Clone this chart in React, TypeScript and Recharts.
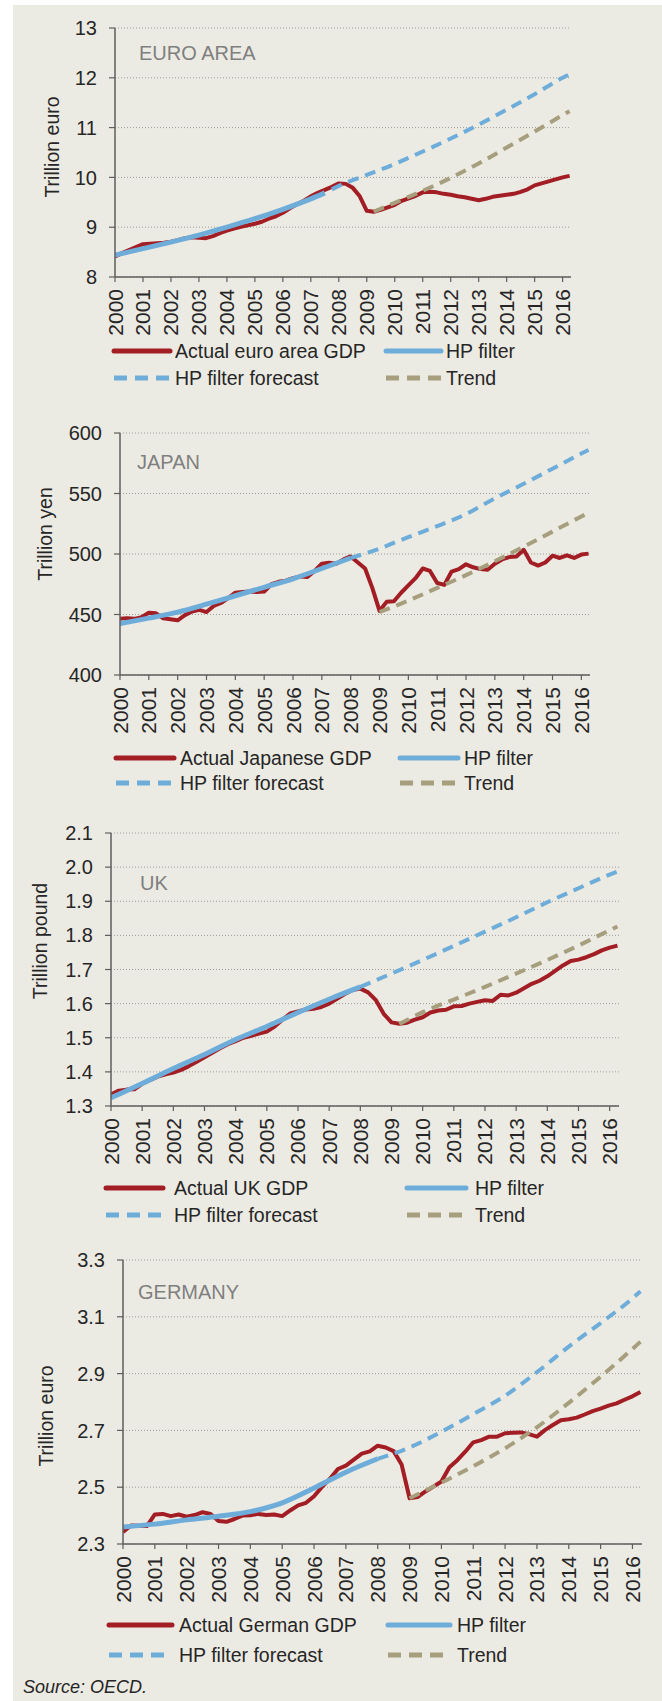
import React from 'react';
import { LineChart, Line, XAxis, YAxis, CartesianGrid } from 'recharts';

const FONT = "'Liberation Sans', Arial, sans-serif";
const RED = '#A31D24';
const BLUE = '#6EADD9';
const KHAKI = '#A69E7C';
const BG = '#ECEBE3';
const TEXT = '#262626';

const years = [2000, 2001, 2002, 2003, 2004, 2005, 2006, 2007, 2008, 2009, 2010, 2011, 2012, 2013, 2014, 2015, 2016];
const quarterTimes = Array.from({ length: 66 }, (_, i) => 2000 + i / 4);

// ---------- EURO AREA ----------
const euroActual = [
  8.41, 8.48, 8.54, 8.60,
  8.66, 8.67, 8.68, 8.69,
  8.71, 8.74, 8.78, 8.80,
  8.79, 8.78, 8.82, 8.88,
  8.93, 8.97, 9.01, 9.04,
  9.07, 9.11, 9.17, 9.22,
  9.29, 9.38, 9.46, 9.53,
  9.62, 9.69, 9.75, 9.81,
  9.88, 9.87, 9.79, 9.62,
  9.33, 9.31, 9.35, 9.40,
  9.45, 9.53, 9.58, 9.63,
  9.70, 9.71, 9.70, 9.67,
  9.65, 9.62, 9.60, 9.57,
  9.54, 9.57, 9.61, 9.63,
  9.65, 9.67, 9.71, 9.76,
  9.84, 9.88, 9.92, 9.96,
  10.00, 10.03,
];
const euroHpT = [2000, 2001, 2002, 2003, 2004, 2005, 2006, 2007, 2007.5];
const euroHp = [8.44, 8.57, 8.70, 8.84, 9.00, 9.17, 9.36, 9.57, 9.69];
const euroFcT = [2007.75, 2008, 2009, 2010, 2011, 2012, 2013, 2014, 2015, 2016, 2016.25];
const euroFc = [9.76, 9.83, 10.05, 10.27, 10.52, 10.78, 11.06, 11.36, 11.67, 12.0, 12.07];
const euroTrT = [2009.25, 2010, 2011, 2012, 2013, 2014, 2015, 2016, 2016.25];
const euroTr = [9.31, 9.49, 9.73, 9.99, 10.28, 10.6, 10.92, 11.25, 11.33];
const euroTicks = [8, 9, 10, 11, 12, 13];

// ---------- JAPAN ----------
const japanActual = [
  446.5, 447.0, 446.4, 447.8,
  451.5, 451.0, 446.8, 446.0,
  445.2, 449.5, 452.5, 453.8,
  452.0, 457.0, 459.5, 463.5,
  468.0, 468.5, 469.0, 468.6,
  469.0, 475.0, 477.0, 478.0,
  480.0, 481.5, 481.0, 486.0,
  492.0, 492.8, 492.0, 495.5,
  498.0, 493.0, 488.0, 472.0,
  453.0, 460.5, 461.0, 468.0,
  474.0, 480.0, 488.0, 486.0,
  476.0, 474.5, 485.5, 487.5,
  491.5, 489.0, 487.5, 487.0,
  492.0, 495.5, 497.5, 498.0,
  503.5, 493.0, 490.4, 493.0,
  498.6, 496.7, 498.9, 496.7,
  499.5, 500.3,
];
const japanHpT = [2000, 2001, 2002, 2003, 2004, 2005, 2006, 2007, 2008];
const japanHp = [442.5, 447, 452, 458.5, 465.5, 472.5, 479.5, 488, 496.7];
const japanFcT = [2008, 2009, 2010, 2011, 2012, 2013, 2014, 2015, 2016, 2016.25];
const japanFc = [496.7, 504.5, 514, 523, 533, 546, 558, 570.5, 583, 586];
const japanTrT = [2009, 2010, 2011, 2012, 2013, 2014, 2015, 2016, 2016.25];
const japanTr = [452, 461.5, 472, 482.5, 494, 506, 518.5, 531, 534];
const japanTicks = [400, 450, 500, 550, 600];

// ---------- UK ----------
const ukActual = [
  1.334, 1.345, 1.348, 1.349,
  1.365, 1.376, 1.386, 1.393,
  1.398, 1.406, 1.417, 1.430,
  1.443, 1.456, 1.469, 1.481,
  1.490, 1.500, 1.506, 1.512,
  1.518, 1.533, 1.553, 1.571,
  1.577, 1.583, 1.585, 1.590,
  1.600, 1.614, 1.628, 1.640,
  1.644, 1.633, 1.610, 1.570,
  1.545, 1.541, 1.544, 1.553,
  1.560, 1.574, 1.580, 1.582,
  1.592, 1.593, 1.600, 1.605,
  1.610, 1.608, 1.626, 1.624,
  1.632, 1.645, 1.658, 1.667,
  1.680, 1.696, 1.712, 1.725,
  1.729, 1.736, 1.745, 1.756,
  1.764, 1.770,
];
const ukHpT = [2000, 2001, 2002, 2003, 2004, 2005, 2006, 2007, 2008];
const ukHp = [1.324, 1.366, 1.410, 1.451, 1.495, 1.533, 1.574, 1.613, 1.649];
const ukFcT = [2008, 2009, 2010, 2011, 2012, 2013, 2014, 2015, 2016, 2016.25];
const ukFc = [1.649, 1.688, 1.728, 1.769, 1.811, 1.853, 1.897, 1.938, 1.978, 1.987];
const ukTrT = [2009.25, 2010, 2011, 2012, 2013, 2014, 2015, 2016, 2016.25];
const ukTr = [1.540, 1.575, 1.612, 1.649, 1.688, 1.728, 1.770, 1.815, 1.826];
const ukTicks = [1.3, 1.4, 1.5, 1.6, 1.7, 1.8, 1.9, 2.0, 2.1];

// ---------- GERMANY ----------
const deActual = [
  2.342, 2.365, 2.364, 2.363,
  2.404, 2.406, 2.398, 2.404,
  2.396, 2.402, 2.412, 2.406,
  2.381, 2.378, 2.388, 2.400,
  2.401, 2.406, 2.402, 2.404,
  2.398, 2.418, 2.436, 2.445,
  2.468, 2.501, 2.530, 2.564,
  2.576, 2.597, 2.618, 2.626,
  2.646, 2.640, 2.627, 2.580,
  2.461, 2.465, 2.485, 2.502,
  2.520, 2.570, 2.595, 2.625,
  2.658, 2.666, 2.678, 2.678,
  2.690, 2.692, 2.693, 2.687,
  2.678, 2.701, 2.719, 2.736,
  2.739, 2.745, 2.756, 2.768,
  2.777, 2.787, 2.795, 2.808,
  2.820, 2.835,
];
const deHpT = [2000, 2001, 2002, 2003, 2004, 2005, 2006, 2007, 2008];
const deHp = [2.360, 2.370, 2.385, 2.398, 2.414, 2.445, 2.497, 2.553, 2.600];
const deFcT = [2008, 2009, 2010, 2011, 2012, 2013, 2014, 2015, 2016, 2016.25];
const deFc = [2.600, 2.640, 2.695, 2.757, 2.822, 2.905, 2.995, 3.078, 3.165, 3.19];
const deTrT = [2009, 2010, 2011, 2012, 2013, 2014, 2015, 2016, 2016.25];
const deTr = [2.461, 2.516, 2.574, 2.637, 2.711, 2.797, 2.889, 2.987, 3.012];
const deTicks = [2.3, 2.5, 2.7, 2.9, 3.1, 3.3];

const rows = (t: number[], v: number[]) => t.map((tt, i) => ({ t: tt, v: v[i] }));

type Panel = {
  title: string;
  ylabel: string;
  actualName: string;
  actual: number[];
  hpT: number[]; hp: number[];
  fcT: number[]; fc: number[];
  trT: number[]; tr: number[];
  ticks: number[];
  decimals: number;
  plot: { left: number; right: number; top: number; bottom: number };
  titlePos: { x: number; y: number };
  ylabelPos: { x: number; y: number };
  legendRows: number[];
  legendCols: { s: number; e: number; t: number }[];
};

const panels: Panel[] = [
  {
    title: 'EURO AREA', ylabel: 'Trillion euro', actualName: 'Actual euro area GDP',
    actual: euroActual, hpT: euroHpT, hp: euroHp, fcT: euroFcT, fc: euroFc, trT: euroTrT, tr: euroTr,
    ticks: euroTicks, decimals: 0,
    plot: { left: 115, right: 571, top: 28.3, bottom: 277.3 },
    titlePos: { x: 139, y: 53 }, ylabelPos: { x: 52, y: 147 },
    legendRows: [351, 378],
    legendCols: [{ s: 114, e: 170, t: 175 }, { s: 386, e: 441, t: 446 }],
  },
  {
    title: 'JAPAN', ylabel: 'Trillion yen', actualName: 'Actual Japanese GDP',
    actual: japanActual, hpT: japanHpT, hp: japanHp, fcT: japanFcT, fc: japanFc, trT: japanTrT, tr: japanTr,
    ticks: japanTicks, decimals: 0,
    plot: { left: 120, right: 590, top: 433.3, bottom: 675.3 },
    titlePos: { x: 137, y: 462 }, ylabelPos: { x: 44.5, y: 534 },
    legendRows: [758, 783],
    legendCols: [{ s: 116, e: 174, t: 180 }, { s: 400, e: 458, t: 464 }],
  },
  {
    title: 'UK', ylabel: 'Trillion pound', actualName: 'Actual UK GDP',
    actual: ukActual, hpT: ukHpT, hp: ukHp, fcT: ukFcT, fc: ukFc, trT: ukTrT, tr: ukTr,
    ticks: ukTicks, decimals: 1,
    plot: { left: 111, right: 619, top: 832.7, bottom: 1105.7 },
    titlePos: { x: 140, y: 883 }, ylabelPos: { x: 40, y: 941 },
    legendRows: [1188, 1215],
    legendCols: [{ s: 106, e: 163, t: 174 }, { s: 407, e: 466, t: 475 }],
  },
  {
    title: 'GERMANY', ylabel: 'Trillion euro', actualName: 'Actual German GDP',
    actual: deActual, hpT: deHpT, hp: deHp, fcT: deFcT, fc: deFc, trT: deTrT, tr: deTr,
    ticks: deTicks, decimals: 1,
    plot: { left: 123, right: 642, top: 1260, bottom: 1544 },
    titlePos: { x: 138, y: 1292 }, ylabelPos: { x: 46, y: 1416 },
    legendRows: [1625, 1655],
    legendCols: [{ s: 109, e: 172, t: 179 }, { s: 388, e: 450, t: 457 }],
  },
];

const XTick = (props: any) => {
  const { x, y, payload } = props;
  return (
    <text
      x={x}
      y={y}
      transform={`rotate(-90 ${x} ${y})`}
      textAnchor="end"
      dominantBaseline="central"
      fontSize={21}
      fill={TEXT}
      fontFamily={FONT}
    >
      {payload.value}
    </text>
  );
};

const LegendItem = ({ s, e, t, y, color, dashed, label }: any) => (
  <>
    <svg
      width={e - s}
      height={10}
      style={{ position: 'absolute', left: s, top: y - 5, overflow: 'visible' }}
    >
      <line
        x1={0}
        y1={5}
        x2={e - s}
        y2={5}
        stroke={color}
        strokeWidth={5}
        strokeDasharray={dashed ? '13 8' : undefined}
        strokeLinecap={dashed ? 'butt' : 'round'}
      />
    </svg>
    <div
      style={{
        position: 'absolute',
        left: t,
        top: y,
        transform: 'translateY(-50%)',
        fontFamily: FONT,
        fontSize: 19.5,
        lineHeight: '22px',
        color: TEXT,
        whiteSpace: 'nowrap',
      }}
    >
      {label}
    </div>
  </>
);

const ChartPanel = ({ p }: { p: Panel }) => {
  const mt = 20;
  const mr = 10;
  const xh = 60;
  const width = p.plot.right + mr;
  const height = p.plot.bottom - p.plot.top + mt + xh;
  const actualRows = rows(quarterTimes, p.actual);
  const [lo, hi] = [p.ticks[0], p.ticks[p.ticks.length - 1]];
  const [r1, r2] = p.legendRows;
  const [c1, c2] = p.legendCols;
  return (
    <>
      <div style={{ position: 'absolute', left: 0, top: p.plot.top - mt }}>
        <LineChart width={width} height={height} margin={{ top: mt, right: mr, bottom: 0, left: 0 }}>
          <CartesianGrid vertical={false} stroke="#9c9c9c" strokeDasharray="1 2" strokeWidth={1} />
          <XAxis
            type="number"
            dataKey="t"
            domain={[2000, 2016.3]}
            ticks={years}
            interval={0}
            height={xh}
            tick={<XTick />}
            tickSize={5}
            tickMargin={7}
            axisLine={{ stroke: '#5e5e5e', strokeWidth: 1.5 }}
            tickLine={{ stroke: '#5e5e5e', strokeWidth: 1.2 }}
            allowDataOverflow
          />
          <YAxis
            type="number"
            domain={[lo, hi]}
            ticks={p.ticks}
            interval={0}
            width={p.plot.left}
            tickSize={6}
            tickMargin={12}
            tick={{ fontSize: 20, fill: TEXT, fontFamily: FONT }}
            tickFormatter={(v: number) => v.toFixed(p.decimals)}
            axisLine={{ stroke: '#5e5e5e', strokeWidth: 1.5 }}
            tickLine={{ stroke: '#5e5e5e', strokeWidth: 1.2 }}
            allowDataOverflow
          />
          <Line data={actualRows} dataKey="v" type="linear" stroke={RED} strokeWidth={4} dot={false} isAnimationActive={false} strokeLinejoin="round" />
          <Line data={rows(p.hpT, p.hp)} dataKey="v" type="monotone" stroke={BLUE} strokeWidth={5} dot={false} isAnimationActive={false} />
          <Line data={rows(p.fcT, p.fc)} dataKey="v" type="monotone" stroke={BLUE} strokeWidth={4} strokeDasharray="11 7" dot={false} isAnimationActive={false} />
          <Line data={rows(p.trT, p.tr)} dataKey="v" type="monotone" stroke={KHAKI} strokeWidth={4} strokeDasharray="11 7" dot={false} isAnimationActive={false} />
        </LineChart>
      </div>
      <div
        style={{
          position: 'absolute',
          left: p.titlePos.x,
          top: p.titlePos.y,
          transform: 'translateY(-50%)',
          fontFamily: FONT,
          fontSize: 20,
          lineHeight: '22px',
          color: '#7f7f7f',
          whiteSpace: 'nowrap',
        }}
      >
        {p.title}
      </div>
      <div
        style={{
          position: 'absolute',
          left: p.ylabelPos.x,
          top: p.ylabelPos.y,
          transform: 'translate(-50%, -50%) rotate(-90deg)',
          fontFamily: FONT,
          fontSize: 19.5,
          lineHeight: '22px',
          color: TEXT,
          whiteSpace: 'nowrap',
        }}
      >
        {p.ylabel}
      </div>
      <LegendItem {...c1} y={r1} color={RED} label={p.actualName} />
      <LegendItem {...c2} y={r1} color={BLUE} label="HP filter" />
      <LegendItem {...c1} y={r2} color={BLUE} dashed label="HP filter forecast" />
      <LegendItem {...c2} y={r2} color={KHAKI} dashed label="Trend" />
    </>
  );
};

export default function App() {
  return (
    <div style={{ position: 'absolute', left: 0, top: 0, width: 662, height: 1701, background: '#ffffff', overflow: 'hidden' }}>
      <div style={{ position: 'absolute', left: 13, top: 5, width: 649, height: 1696, background: BG }} />
      {panels.map((p) => (
        <ChartPanel key={p.title} p={p} />
      ))}
      <div
        style={{
          position: 'absolute',
          left: 23,
          top: 1687,
          transform: 'translateY(-50%)',
          fontFamily: FONT,
          fontSize: 18,
          fontStyle: 'italic',
          lineHeight: '20px',
          color: TEXT,
          whiteSpace: 'nowrap',
        }}
      >
        Source: OECD.
      </div>
    </div>
  );
}
